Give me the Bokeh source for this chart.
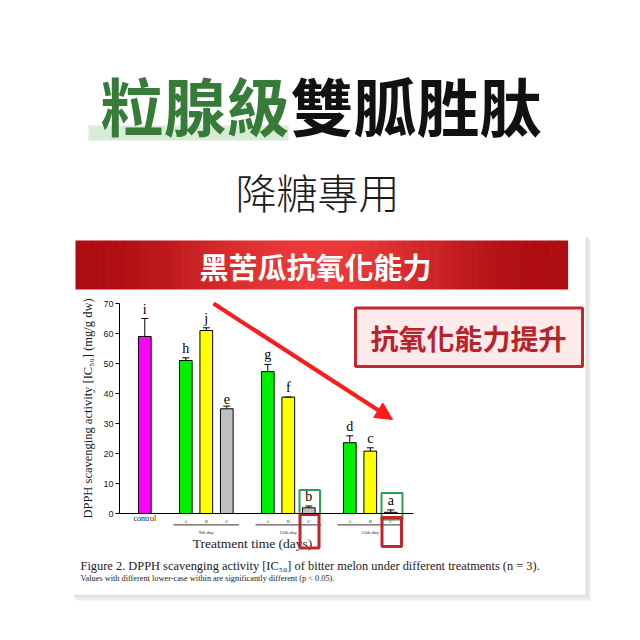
from bokeh.plotting import figure
from bokeh.models import (ColumnDataSource, Range1d, FixedTicker,
                          LinearAxis, Arrow, NormalHead)
from bokeh.core.properties import value
from bokeh.embed import file_html
from bokeh.resources import INLINE

# values
treatments = ["control", "A", "B", "C", "A", "B", "C", "A", "B", "C"]
positions = [0, 2, 3, 4, 6, 7, 8, 10, 11, 12]
ic50 = [59.0, 51.0, 61.0, 34.9, 47.3, 38.8, 1.9, 23.6, 20.8, 0.4]
errors = [6.0, 0.9, 0.9, 0.9, 2.4, 0.0, 0.6, 2.3, 1.1, 0.8]
letters = ["i", "h", "j", "e", "g", "f", "b", "d", "c", "a"]
bar_colors = ["#ff00ff", "#00ee00", "#ffff00", "#c0c0c0",
              "#00ee00", "#ffff00", "#c0c0c0",
              "#00ee00", "#ffff00", "#c0c0c0"]
days = ["9th day", "12th day", "15th day"]
day_centers = [3, 7, 11]
y_ticks = [0, 10, 20, 30, 40, 50, 60, 70]

SERIF = "Liberation Serif"
CJK = "Noto Sans CJK TC"
W = H = 624

# where the chart's scales sit on the page (pixels)
X0, DX = 144.3, 20.5       # x of position 0, pixels per position
Y0, DY = 513.0, 3.0        # y of value 0, pixels per unit
AX_L, AX_R = 119.0, 413.0  # ends of the x axis
CAP = 0.17                 # half width of an error bar cap, in positions


def pos_at(X):
    return (X - X0) / DX


p = figure(width=W, height=H, x_range=Range1d(0, W), y_range=Range1d(H, 0),
           output_backend="svg", toolbar_location=None, min_border=0)
p.axis.visible = False
p.grid.visible = False
p.outline_line_color = None
p.background_fill_color = "white"
p.border_fill_color = "white"
p.extra_x_ranges = {"pos": Range1d(pos_at(0), pos_at(W))}
p.extra_y_ranges = {"val": Range1d((Y0 - H) / DY, Y0 / DY)}

# card with a soft shadow
p.quad(left=[75, 74, 73], right=[590, 588, 585], top=[239, 237, 236], bottom=[600, 597, 594],
       fill_color=["#ededed", "#e2e2e2", "white"], line_color=None)

# title
p.quad(left=88, right=288, top=125, bottom=140, fill_color="#d8ebd6", line_color=None)
p.text(x=[289], y=[103], text=["粒腺級"], text_font=value(CJK), text_font_size="63px",
       text_font_style="bold", text_color="#367c38", text_align="right", text_baseline="middle")
p.text(x=[290], y=[103], text=["雙胍胜肽"], text_font=value(CJK), text_font_size="63px",
       text_font_style="bold", text_color="#111111", text_align="left", text_baseline="middle")
p.text(x=[317], y=[190], text=["降糖專用"], text_font=value("Noto Sans CJK TC Light"),
       text_font_size="41px", text_color="#1a1a1a", text_align="center", text_baseline="middle")

# red banner with a bright centre
n = 60
bx0, bx1 = 75, 567
lefts, rights, cols = [], [], []
for k in range(n):
    a = bx0 + (bx1 - bx0) * k / n
    b = bx0 + (bx1 - bx0) * (k + 1) / n
    t = min(1.0, abs((a + b) / 2 - 318) / 240)
    t = t * t * (3 - 2 * t)
    cols.append("#%02x%02x%02x" % (int(236 - 64 * t), int(58 - 46 * t), int(58 - 40 * t)))
    lefts.append(a)
    rights.append(b + 0.6)
p.quad(left=lefts, right=rights, top=240, bottom=289, fill_color=cols, line_color=None)
p.text(x=[315], y=[265], text=["黑苦瓜抗氧化能力"], text_font=value(CJK), text_font_size="29px",
       text_font_style="bold", text_color="white", text_align="center", text_baseline="middle")

# bars, error bars and letters
src = ColumnDataSource(dict(
    x=positions,
    top=ic50,
    upper=[v + e for v, e in zip(ic50, errors)],
    cap_l=[x - CAP for x in positions],
    cap_r=[x + CAP for x in positions],
    color=bar_colors,
    letter=letters,
))
p.vbar(x="x", top="top", bottom=0, width=0.62, source=src, fill_color="color",
       line_color="black", line_width=1, x_range_name="pos", y_range_name="val")
p.segment(x0="x", x1="x", y0="top", y1="upper", source=src, line_color="black",
          line_width=1, x_range_name="pos", y_range_name="val")
p.segment(x0="cap_l", x1="cap_r", y0="upper", y1="upper", source=src, line_color="black",
          line_width=1, x_range_name="pos", y_range_name="val")
p.text(x="x", y="upper", text="letter", source=src, text_align="center",
       text_baseline="bottom", y_offset=-2, text_font=value(SERIF),
       text_font_size="14px", text_color="black", x_range_name="pos", y_range_name="val")

# axes
yax = LinearAxis(x_range_name="pos", y_range_name="val", fixed_location=pos_at(AX_L),
                 bounds=(y_ticks[0], y_ticks[-1]), ticker=FixedTicker(ticks=y_ticks))
yax.major_label_text_font = "Liberation Sans"
yax.major_label_text_font_size = "9px"
yax.major_label_text_color = "#222222"
yax.major_tick_out = 4
yax.major_tick_in = 0
yax.minor_tick_line_color = None
yax.major_label_standoff = 2
yax.axis_label = "DPPH scavenging activity [IC₅₀] (mg/g dw)"
yax.axis_label_text_font = SERIF
yax.axis_label_text_font_size = "12.5px"
yax.axis_label_text_font_style = "normal"
yax.axis_label_text_color = "#1a1a1a"
yax.axis_label_standoff = 5
p.add_layout(yax, "left")

xax = LinearAxis(x_range_name="pos", y_range_name="val", fixed_location=0,
                 bounds=(pos_at(AX_L), pos_at(AX_R)), ticker=FixedTicker(ticks=positions))
xax.major_label_overrides = {pos: ("" if name == "control" else name)
                             for pos, name in zip(positions, treatments)}
xax.major_label_text_font = SERIF
xax.major_label_text_font_size = "5px"
xax.major_label_standoff = 5
xax.major_tick_out = 0
xax.major_tick_in = 0
xax.minor_tick_line_color = None
p.add_layout(xax, "below")

p.text(x=[positions[0]], y=[-1.7], text=[treatments[0]], text_font=value(SERIF),
       text_font_size="8px", text_align="center", text_baseline="middle",
       text_color="#222222", x_range_name="pos", y_range_name="val")

# day groups under the axis
p.segment(x0=[c - 1.6 for c in day_centers], x1=[c + 1.6 for c in day_centers],
          y0=-3.8, y1=-3.8, line_color="#333333", line_width=1,
          x_range_name="pos", y_range_name="val")
p.text(x=day_centers, y=-6.2, text=days, text_font=value(SERIF), text_font_size="5px",
       text_align="center", text_baseline="middle", text_color="#222222",
       x_range_name="pos", y_range_name="val")

p.text(x=[252], y=[543], text=["Treatment time (days)"], text_font=value(SERIF),
       text_font_size="13.5px", text_color="#1a1a1a", text_align="center", text_baseline="middle")

# captions
p.text(x=[80, 80], y=[565, 578],
       text=["Figure 2. DPPH scavenging activity [IC₅₀] of bitter melon under different treatments (n = 3).",
             "Values with different lower-case within are significantly  different (p < 0.05)."],
       text_font=value(SERIF), text_font_size=["12.4px", "8.3px"], text_color="#222222",
       text_align="left", text_baseline="middle")

# highlights
p.quad(left=[299, 381], right=[319.5, 402], top=[489.5, 492.5], bottom=[514, 519],
       fill_color=None, line_color="#2ea04f", line_width=2)
p.quad(left=[299.5, 381.5], right=[318.5, 401], top=[514, 517], bottom=[547.5, 546],
       fill_color=None, line_color="#c0272d", line_width=3)

p.add_layout(Arrow(x_start=213, y_start=303, x_end=392, y_end=419,
                   line_color="#ff1a1a", line_width=4,
                   end=NormalHead(size=17, fill_color="#ff1a1a", line_color="#ff1a1a")))

p.quad(left=355, right=582, top=307.5, bottom=366, fill_color="#fdeaea",
       line_color="#c1272d", line_width=3)
p.text(x=[468], y=[337], text=["抗氧化能力提升"], text_font=value(CJK), text_font_size="28px",
       text_font_style="bold", text_color="#b8232a", text_align="center", text_baseline="middle")

open("out.html", "w").write(file_html(p, INLINE))
